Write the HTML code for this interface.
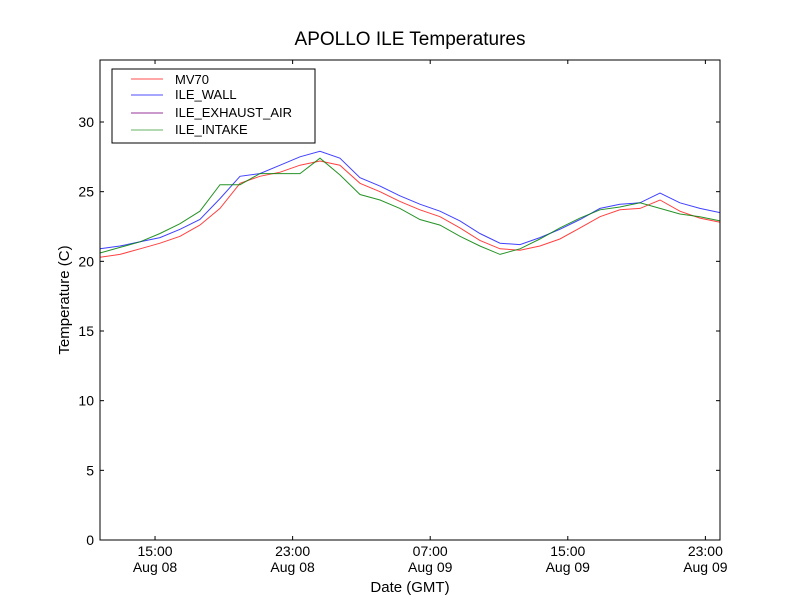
<!DOCTYPE html>
<html><head><meta charset="utf-8"><style>
body{margin:0;background:#fff;}
svg text{font-family:"Liberation Sans","DejaVu Sans",sans-serif;}
</style></head><body>
<svg id="chart" width="800" height="600" xmlns="http://www.w3.org/2000/svg">
<rect width="800" height="600" fill="#fff"/>
<text x="410" y="45" font-size="19" text-anchor="middle">APOLLO ILE Temperatures</text>
<g id="plot"></g>
<rect x="100" y="60" width="620" height="480" fill="none" stroke="#000" stroke-width="1"/>
<text transform="translate(69,300) rotate(-90)" font-size="15" text-anchor="middle">Temperature (C)</text>
<text x="410" y="592" font-size="15" text-anchor="middle">Date (GMT)</text>
<g>
<rect x="112" y="69" width="203" height="74" fill="#fff" stroke="#000" stroke-width="1"/>
<line x1="131" y1="79" x2="163" y2="79" stroke="#ff0000" stroke-opacity="0.7"/>
<text x="175" y="84" font-size="13">MV70</text>
<line x1="131" y1="95" x2="163" y2="95" stroke="#0000ff" stroke-opacity="0.7"/>
<text x="175" y="99" font-size="13">ILE_WALL</text>
<line x1="131" y1="113" x2="163" y2="113" stroke="#800080" stroke-opacity="0.8"/>
<text x="175" y="117" font-size="13">ILE_EXHAUST_AIR</text>
<line x1="131" y1="130" x2="163" y2="130" stroke="#008000" stroke-opacity="0.6"/>
<text x="175" y="134" font-size="13">ILE_INTAKE</text>
</g>
</svg>
<script>
const hours=[0,1.16,2.33,3.49,4.65,5.81,6.98,8.14,9.30,10.47,11.63,12.79,13.95,15.12,16.28,17.44,18.60,19.77,20.93,22.09,23.26,24.42,25.58,26.74,27.91,29.07,30.23,31.40,32.56,33.72,34.88,36.05];
const wall=[20.9,21.1,21.4,21.7,22.3,23.0,24.5,26.1,26.3,26.9,27.5,27.9,27.4,26.0,25.4,24.7,24.1,23.6,22.9,22.0,21.3,21.2,21.7,22.3,23.0,23.8,24.1,24.2,24.9,24.2,23.8,23.5];
const mv70=[20.3,20.5,20.9,21.3,21.8,22.6,23.8,25.6,26.1,26.4,26.9,27.2,26.9,25.6,25.0,24.3,23.7,23.2,22.4,21.5,20.9,20.8,21.1,21.6,22.4,23.2,23.7,23.8,24.4,23.6,23.1,22.8];
const intake=[20.6,21.0,21.4,22.0,22.7,23.6,25.5,25.5,26.3,26.3,26.3,27.4,26.2,24.8,24.4,23.8,23.0,22.6,21.8,21.1,20.5,20.9,21.6,22.4,23.1,23.7,23.9,24.2,23.8,23.4,23.2,22.9];
const yTicks=[0,5,10,15,20,25,30];
const xTickHours=[3.2,11.2,19.2,27.2,35.2];
const xTickTimes=["15:00","23:00","07:00","15:00","23:00"];
const xTickDates=["Aug 08","Aug 08","Aug 09","Aug 09","Aug 09"];
const X0=100,X1=720,Y0=540,Y1=60,HMAX=36.05,TMAX=34.45;
function sx(h){return X0+h/HMAX*(X1-X0);}
function sy(t){return Y0-t/TMAX*(Y0-Y1);}
const NS="http://www.w3.org/2000/svg";
const g=document.getElementById('plot');
function mk(tag,attrs){const e=document.createElementNS(NS,tag);for(const k in attrs)e.setAttribute(k,attrs[k]);g.appendChild(e);return e;}
yTicks.forEach((t,i)=>{
  const y=sy(t);
  const a=mk('line',{x1:X0,y1:y,x2:X0+4,y2:y,stroke:'#000'});
  
  
  const b=mk('line',{x1:X1-4,y1:y,x2:X1,y2:y,stroke:'#000'});
  
  
  const tx=mk('text',{x:X0-6,y:y+5,'font-size':14,'text-anchor':'end'});
  tx.textContent=t;
  
  
});
xTickHours.forEach((h,i)=>{
  const x=sx(h);
  const a=mk('line',{x1:x,y1:Y0,x2:x,y2:Y0-4,stroke:'#000'});
  
  
  const b=mk('line',{x1:x,y1:Y1,x2:x,y2:Y1+4,stroke:'#000'});
  
  
  const t1=mk('text',{x:x,y:556,'font-size':14,'text-anchor':'middle'});
  t1.textContent=xTickTimes[i];
  
  
  const t2=mk('text',{x:x,y:572,'font-size':14,'text-anchor':'middle'});
  t2.textContent=xTickDates[i];
  
  
});
function line(vals,color,op,name){
  const d=vals.map((v,i)=>(i?'L':'M')+sx(hours[i]).toFixed(1)+','+sy(v).toFixed(1)).join('');
  const p=mk('path',{d:d,fill:'none',stroke:color,'stroke-opacity':op,'stroke-width':1});
  
  
}
line(mv70,'#ff0000',0.75,'mv70-line');
line(wall,'#0000ff',0.75,'ile-wall-line');
line(intake,'#008000',0.85,'ile-intake-line');
</script>
</body></html>
